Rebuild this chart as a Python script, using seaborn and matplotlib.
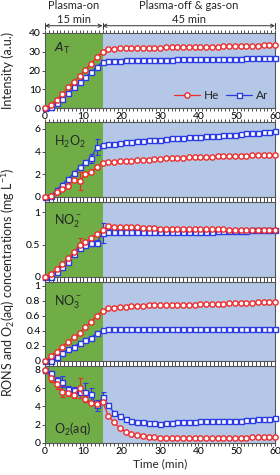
import numpy as np
import pandas as pd
import seaborn as sns
import matplotlib.pyplot as plt
from matplotlib.ticker import MultipleLocator
import matplotlib.transforms as mtransforms

# time points (min): plasma-on 0-15, plasma-off & gas-on 15-60
t = [0, 1.5, 3, 4.5, 6, 7.5, 9, 10.5, 12, 13.5, 15,
     16.5, 18, 19.5, 21, 22.5, 24, 25.5, 27, 28.5, 30,
     31.5, 33, 34.5, 36, 37.5, 39, 40.5, 42, 43.5, 45,
     46.5, 48, 49.5, 51, 52.5, 54, 55.5, 57, 58.5, 60]

at_he = [0, 1.8, 4.3, 7.5, 11, 14, 17, 20.5, 23.5, 27, 30,
         31.5, 31.7, 31.8, 31.9, 32.0, 32.0, 32.0, 32.1, 32.2, 32.2,
         32.3, 32.4, 32.4, 32.5, 32.5, 32.6, 32.7, 32.7, 32.8, 32.8,
         32.9, 33.0, 33.0, 33.1, 33.2, 33.2, 33.3, 33.4, 33.4, 33.5]
at_ar = [0, 0.5, 2.5, 5, 8, 11, 14, 16.5, 19, 22, 24.5,
         25.0, 25.2, 25.3, 25.4, 25.5, 25.5, 25.6, 25.6, 25.7, 25.7,
         25.8, 25.8, 25.9, 25.9, 26.0, 26.0, 26.1, 26.1, 26.2, 26.2,
         26.3, 26.3, 26.4, 26.4, 26.5, 26.5, 26.6, 26.6, 26.7, 26.8]

h2o2_he = [0, 0.1, 0.4, 0.7, 1.0, 1.5, 1.4, 2.0, 2.2, 2.6, 3.0,
           3.05, 3.1, 3.15, 3.2, 3.2, 3.25, 3.3, 3.3, 3.35, 3.35,
           3.4, 3.4, 3.45, 3.45, 3.5, 3.5, 3.5, 3.55, 3.55, 3.6,
           3.6, 3.6, 3.62, 3.65, 3.65, 3.67, 3.68, 3.7, 3.7, 3.72]
h2o2_ar = [0, 0.1, 0.6, 1.1, 1.6, 2.1, 2.6, 3.1, 3.4, 4.4, 4.6,
           4.65, 4.7, 4.75, 4.8, 4.85, 4.9, 4.95, 5.0, 5.0, 5.05,
           5.1, 5.15, 5.2, 5.2, 5.25, 5.3, 5.3, 5.35, 5.4, 5.4,
           5.45, 5.5, 5.5, 5.55, 5.6, 5.6, 5.65, 5.7, 5.75, 5.8]

no2_he = [0, 0.05, 0.12, 0.2, 0.3, 0.38, 0.5, 0.54, 0.6, 0.67, 0.72,
          0.79, 0.78, 0.78, 0.77, 0.77, 0.77, 0.76, 0.76, 0.76, 0.75,
          0.75, 0.75, 0.75, 0.75, 0.74, 0.74, 0.74, 0.74, 0.74, 0.74,
          0.74, 0.73, 0.73, 0.73, 0.73, 0.73, 0.73, 0.73, 0.73, 0.73]
no2_ar = [0, 0, 0.08, 0.15, 0.23, 0.36, 0.45, 0.5, 0.53, 0.53, 0.68,
          0.70, 0.70, 0.70, 0.70, 0.70, 0.70, 0.70, 0.70, 0.70, 0.70,
          0.70, 0.70, 0.70, 0.70, 0.70, 0.70, 0.70, 0.70, 0.70, 0.71,
          0.71, 0.71, 0.71, 0.71, 0.71, 0.72, 0.72, 0.72, 0.72, 0.72]

no3_he = [0, 0.07, 0.12, 0.19, 0.25, 0.32, 0.37, 0.45, 0.52, 0.6, 0.67,
          0.70, 0.71, 0.72, 0.72, 0.73, 0.73, 0.73, 0.74, 0.74, 0.74,
          0.74, 0.75, 0.75, 0.75, 0.75, 0.75, 0.76, 0.76, 0.76, 0.76,
          0.76, 0.77, 0.77, 0.77, 0.77, 0.77, 0.78, 0.78, 0.78, 0.78]
no3_ar = [0, 0, 0.05, 0.1, 0.16, 0.19, 0.24, 0.28, 0.31, 0.37, 0.41,
          0.42, 0.42, 0.42, 0.42, 0.42, 0.42, 0.42, 0.42, 0.42, 0.42,
          0.42, 0.42, 0.42, 0.42, 0.42, 0.43, 0.43, 0.43, 0.43, 0.43,
          0.43, 0.43, 0.43, 0.43, 0.43, 0.43, 0.43, 0.43, 0.43, 0.43]

o2_he = [8, 7.1, 6.4, 5.6, 5.45, 5.2, 6.0, 4.8, 4.4, 4.3, 4.5,
         3.0, 2.25, 1.65, 1.2, 0.95, 0.85, 0.75, 0.68, 0.62, 0.6,
         0.58, 0.56, 0.55, 0.52, 0.52, 0.52, 0.53, 0.54, 0.55, 0.55,
         0.56, 0.57, 0.58, 0.6, 0.6, 0.62, 0.63, 0.65, 0.66, 0.68]
o2_ar = [8, 7.6, 6.9, 6.7, 5.9, 5.8, 5.6, 5.6, 5.3, 4.1, 5.0,
         4.2, 3.3, 2.9, 2.6, 2.45, 2.3, 2.25, 2.2, 2.15, 2.1,
         2.15, 2.2, 2.25, 2.3, 2.3, 2.3, 2.35, 2.35, 2.35, 2.4,
         2.4, 2.4, 2.45, 2.45, 2.5, 2.55, 2.6, 2.6, 2.65, 2.7]

# error bars (plasma-on points, then post-phase)
z30 = [0] * 30
at_he_err = [0, 0.3, 0.4, 0.5, 0.5, 0.5, 0.5, 0.6, 0.6, 0.6, 0.6] + z30
at_ar_err = [0, 0.3, 0.4, 0.5, 0.5, 0.5, 0.5, 0.5, 0.6, 0.6, 1.0] + [0.9] * 30
h2o2_he_err = [0, 0.05, 0.1, 0.1, 0.1, 0.1, 0.8, 0.1, 0.1, 0.1, 0.1] + z30
h2o2_ar_err = [0, 0.05, 0.1, 0.1, 0.1, 0.1, 0.1, 0.1, 0.4, 0.7, 0.1] + z30
no2_he_err = [0, 0, 0.02, 0.02, 0.02, 0.02, 0.1, 0.02, 0.02, 0.02, 0.02] + z30
no2_ar_err = [0, 0, 0.02, 0.02, 0.02, 0.02, 0.02, 0.03, 0.05, 0.05, 0.15] + [0.04] * 30
no3_he_err = [0, 0.01, 0.01, 0.01, 0.01, 0.01, 0.01, 0.01, 0.01, 0.01, 0.01] + z30
no3_ar_err = [0, 0.01, 0.01, 0.01, 0.01, 0.01, 0.01, 0.01, 0.01, 0.01, 0.01] + z30
o2_he_err = [0, 0.4, 0.5, 0.6, 0.3, 0.3, 1.1, 0.3, 0.2, 0.2, 0.2] + z30
o2_ar_err = [0, 0.3, 0.3, 0.6, 0.3, 0.3, 0.3, 0.9, 0.7, 0.6, 0.6] + z30

panels = [
    (at_he, at_ar, at_he_err, at_ar_err, r"$\mathit{A}_\mathrm{T}$", (0, 40), [0, 10, 20, 30, 40], 0.80),
    (h2o2_he, h2o2_ar, h2o2_he_err, h2o2_ar_err, r"H$_2$O$_2$", (0, 6.6), [0, 2, 4, 6], 0.74),
    (no2_he, no2_ar, no2_he_err, no2_ar_err, r"NO$_2^-$", (0, 1.16), [0, 0.5, 1], 0.75),
    (no3_he, no3_ar, no3_he_err, no3_ar_err, r"NO$_3^-$", (0, 1.05), [0, 0.2, 0.4, 0.6, 0.8, 1], 0.74),
    (o2_he, o2_ar, o2_he_err, o2_ar_err, r"O$_2$(aq)", (0, 8.4), [0, 2, 4, 6, 8], 0.17),
]
# panel top/bottom in pixels
rows = [(33, 108), (122, 197), (202, 277), (282, 361), (366, 443)]

sns.set_theme(style="white")
plt.rcParams['font.family'] = ['Lato', 'DejaVu Sans']
plt.rcParams['mathtext.default'] = 'regular'

W, H = 280, 475
fig = plt.figure(figsize=(W / 100, H / 100), dpi=100)

red = '#ee2a2a'
blue = '#2a3be6'
green = '#70ad47'
lblue = '#b4c7e7'
edge = '#555555'

axes = []
for i, ((he, ar, he_e, ar_e, lab, ylim, yt, ty), (top, bot)) in enumerate(zip(panels, rows)):
    ax = fig.add_axes([45 / W, 1 - bot / H, 230 / W, (bot - top) / H])
    axes.append(ax)
    ax.axvspan(0, 15, color=green, zorder=0, lw=0)
    ax.axvspan(15, 60, color=lblue, zorder=0, lw=0)
    df = pd.DataFrame({'t': t, 'He': he, 'Ar': ar})
    ax.errorbar(t, he, yerr=he_e, fmt='none', ecolor=red, elinewidth=0.8, capsize=1.8, capthick=0.8, zorder=2)
    ax.errorbar(t, ar, yerr=ar_e, fmt='none', ecolor=blue, elinewidth=0.8, capsize=1.8, capthick=0.8, zorder=2)
    sns.lineplot(data=df, x='t', y='Ar', ax=ax, color=blue, marker='s', markersize=3.6,
                 markerfacecolor='white', markeredgecolor=blue, markeredgewidth=1.0,
                 linewidth=0.9, clip_on=False, zorder=3, label='Ar')
    sns.lineplot(data=df, x='t', y='He', ax=ax, color=red, marker='o', markersize=3.8,
                 markerfacecolor='white', markeredgecolor=red, markeredgewidth=1.0,
                 linewidth=0.9, clip_on=False, zorder=4, label='He')
    if ax.get_legend() is not None:
        ax.get_legend().remove()
    ax.set_xlim(0, 60)
    ax.set_ylim(*ylim)
    ax.set_yticks(yt)
    ax.set_yticklabels([f"{v:g}" for v in yt])
    ax.set_xticks([0, 10, 20, 30, 40, 50, 60])
    ax.xaxis.set_minor_locator(MultipleLocator(1))
    ax.tick_params(axis='both', which='both', direction='out', labelsize=7.5, colors='#333333',
                   labelcolor='black', pad=1.2)
    ax.tick_params(axis='x', which='both', top=True, bottom=True, length=2, width=0.6)
    ax.tick_params(axis='y', which='major', left=True, length=2, width=0.6)
    if i not in (0, 4):
        ax.set_xticklabels([])
    ax.set_xlabel('')
    ax.set_ylabel('')
    for s in ax.spines.values():
        s.set_color(edge)
        s.set_linewidth(0.8)
    ax.text(2.3, ty * ylim[1], lab, fontsize=9, va='center', ha='left')

# legend in first panel
h, l = axes[0].get_legend_handles_labels()
order = [l.index('He'), l.index('Ar')]
axes[0].legend([h[k] for k in order], [l[k] for k in order], loc='lower right', ncol=2,
               frameon=False, fontsize=8.5, handlelength=2.2, columnspacing=0.6,
               handletextpad=0.3, borderaxespad=0.2)

# phase annotation above first panel
ax0 = axes[0]
trans = mtransforms.blended_transform_factory(ax0.transData, ax0.transAxes)
ya = 1.097
ax0.annotate('', xy=(0, ya), xytext=(15, ya), xycoords=trans, textcoords=trans,
             arrowprops=dict(arrowstyle='<->', lw=0.7, color='#333333', shrinkA=0, shrinkB=0,
                             mutation_scale=6), annotation_clip=False)
ax0.annotate('', xy=(15, ya), xytext=(60, ya), xycoords=trans, textcoords=trans,
             arrowprops=dict(arrowstyle='<->', lw=0.7, color='#333333', shrinkA=0, shrinkB=0,
                             mutation_scale=6), annotation_clip=False)
for xv in (0, 15, 60):
    ax0.plot([xv, xv], [ya - 0.04, ya + 0.04], transform=trans, color='#333333', lw=0.7, clip_on=False)
ax0.text(7.5, 1.27, 'Plasma-on\n15 min', transform=trans, ha='center', va='center',
         fontsize=8, linespacing=1.3)
ax0.text(37.5, 1.27, 'Plasma-off & gas-on\n45 min', transform=trans, ha='center', va='center',
         fontsize=8, linespacing=1.3)

fig.text(8 / W, 1 - 70.5 / H, 'Intensity (a.u.)', rotation=90, ha='center', va='center', fontsize=9)
fig.text(8 / W, 1 - 282 / H, r"RONS and O$_2$(aq) concentrations (mg L$^{-1}$)", rotation=90,
         ha='center', va='center', fontsize=9)
fig.text(160 / W, 1 - 464 / H, 'Time (min)', ha='center', va='center', fontsize=8.5)

fig.savefig('out.png', dpi=100)
